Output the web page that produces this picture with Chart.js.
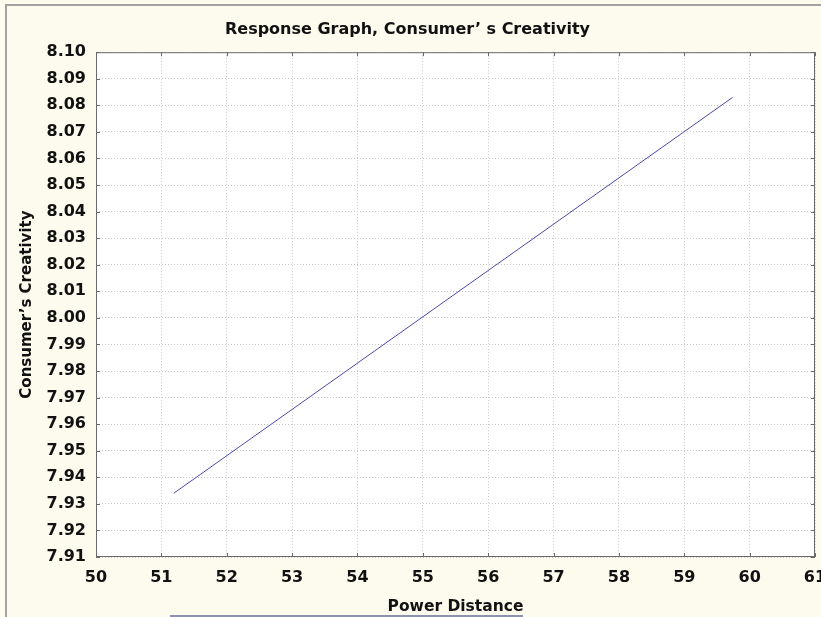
<!DOCTYPE html>
<html>
<head>
<meta charset="utf-8">
<script src="https://cdn.jsdelivr.net/npm/chart.js@4"></script>
<style>
  html, body { margin: 0; padding: 0; background: #fdfbee; }
  #wrap { width: 821px; height: 617px; }
</style>
</head>
<body>
<div id="wrap"><canvas id="chart" width="821" height="617"></canvas></div>
<script>
// response line (end points of the fitted line)
const powerDistance = [51.19, 59.74];
const creativity = [7.934, 8.083];

// tick labels
const xTicks = [50, 51, 52, 53, 54, 55, 56, 57, 58, 59, 60, 61];
const yTicks = [7.91, 7.92, 7.93, 7.94, 7.95, 7.96, 7.97, 7.98, 7.99, 8.00,
                8.01, 8.02, 8.03, 8.04, 8.05, 8.06, 8.07, 8.08, 8.09, 8.10];

const titleText = 'Response Graph, Consumer\u2019 s Creativity';
const xTitle = 'Power Distance';
const yTitle = 'Consumer\u2019s Creativity';

const FONT = "'DejaVu Sans', Verdana, sans-serif";

// frame, white plot area, inward ticks on all four sides, legend edge
const framePlugin = {
    id: 'frame',
    beforeDraw(chart) {
        const { ctx, chartArea: a } = chart;
        ctx.save();
        ctx.fillStyle = '#fdfbee';
        ctx.fillRect(0, 0, chart.width, chart.height);
        ctx.strokeStyle = '#a3a3a3';
        ctx.lineWidth = 2;
        ctx.strokeRect(6, 5, chart.width + 10, chart.height + 10);
        ctx.fillStyle = '#ffffff';
        ctx.fillRect(a.left, a.top, a.right - a.left, a.bottom - a.top);
        ctx.restore();
    },
    afterDraw(chart) {
        const { ctx, chartArea: a, scales } = chart;
        ctx.save();
        ctx.strokeStyle = '#6a6a6a';
        ctx.lineWidth = 1;
        ctx.strokeRect(a.left + 0.5, a.top + 0.5, a.right - a.left - 1, a.bottom - a.top - 1);
        ctx.beginPath();
        xTicks.forEach(v => {
            const px = Math.round(scales.x.getPixelForValue(v)) + 0.5;
            ctx.moveTo(px, a.top); ctx.lineTo(px, a.top + 4);
            ctx.moveTo(px, a.bottom); ctx.lineTo(px, a.bottom - 4);
        });
        yTicks.forEach(v => {
            const py = Math.round(scales.y.getPixelForValue(v)) + 0.5;
            ctx.moveTo(a.left, py); ctx.lineTo(a.left + 4, py);
            ctx.moveTo(a.right, py); ctx.lineTo(a.right - 4, py);
        });
        ctx.stroke();
        // top edge of the legend box, cut off by the picture
        ctx.strokeStyle = '#8c91b0';
        ctx.lineWidth = 2;
        ctx.beginPath();
        ctx.moveTo(170, chart.height - 1);
        ctx.lineTo(523, chart.height - 1);
        ctx.stroke();
        ctx.restore();
    }
};

new Chart(document.getElementById('chart').getContext('2d'), {
    type: 'scatter',
    data: {
        datasets: [{
            label: 'Consumer\u2019s Creativity',
            data: powerDistance.map((x, i) => ({ x: x, y: creativity[i] })),
            showLine: true,
            borderColor: '#4b4ba8',
            borderWidth: 1,
            pointRadius: 0,
            fill: false
        }]
    },
    options: {
        responsive: false,
        animation: false,
        layout: { padding: { left: 0, right: 6, top: 0, bottom: 0 } },
        plugins: {
            legend: { display: false },
            tooltip: { enabled: false },
            title: {
                display: true,
                text: titleText,
                color: '#111',
                font: { family: FONT, size: 16, weight: 'bold' },
                padding: { top: 20, bottom: 13 }
            }
        },
        scales: {
            x: {
                type: 'linear',
                min: 50, max: 61,
                afterBuildTicks: s => { s.ticks = xTicks.map(v => ({ value: v })); },
                afterFit: s => { s.height = 60; s.paddingLeft = 0; s.paddingRight = 0; },
                grid: { color: '#c9c9c9', drawTicks: false, lineWidth: 1 },
                border: { display: false, dash: [1, 2] },
                ticks: {
                    padding: 11,
                    color: '#111',
                    font: { family: FONT, size: 16, weight: 'bold' },
                    maxRotation: 0,
                    autoSkip: false
                },
                title: {
                    display: true,
                    text: xTitle,
                    color: '#111',
                    font: { family: FONT, size: 15.5, weight: 'bold' },
                    padding: { top: 0, bottom: 1 }
                }
            },
            y: {
                type: 'linear',
                min: 7.91, max: 8.10,
                afterBuildTicks: s => { s.ticks = yTicks.map(v => ({ value: v })); },
                afterFit: s => { s.width = 96; s.paddingTop = 0; s.paddingBottom = 0; },
                grid: { color: '#c9c9c9', drawTicks: false, lineWidth: 1 },
                border: { display: false, dash: [1, 2] },
                ticks: {
                    padding: 10,
                    color: '#111',
                    font: { family: FONT, size: 16, weight: 'bold' },
                    callback: v => v.toFixed(2),
                    autoSkip: false
                },
                title: {
                    display: true,
                    text: yTitle,
                    color: '#111',
                    font: { family: FONT, size: 15, weight: 'bold' },
                    padding: { top: 18, bottom: 0 }
                }
            }
        }
    },
    plugins: [framePlugin]
});
</script>
</body>
</html>
